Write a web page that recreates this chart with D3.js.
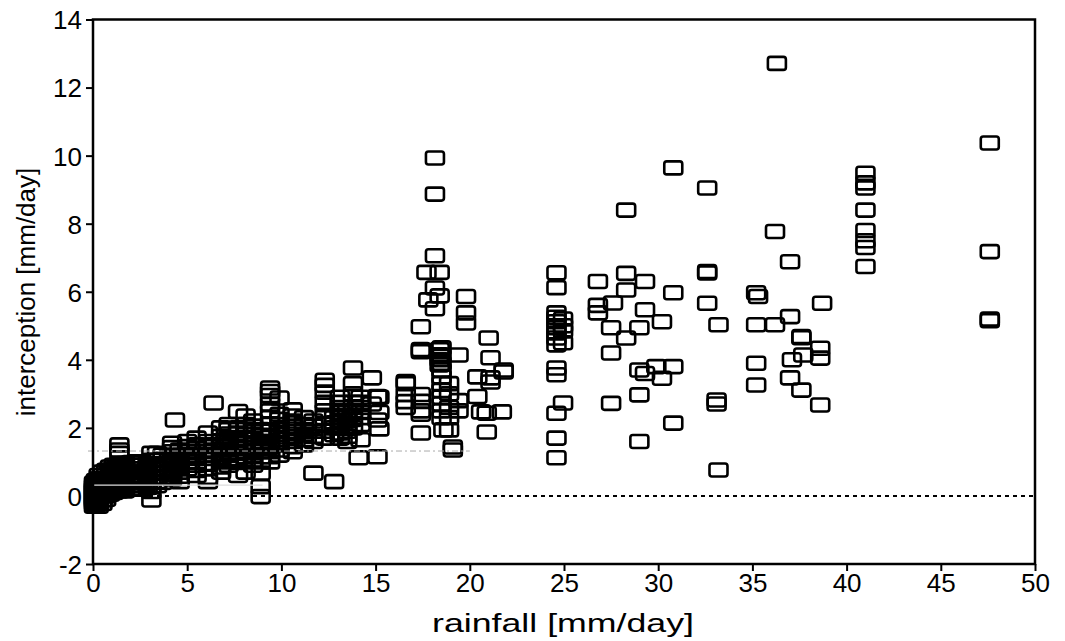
<!DOCTYPE html>
<html><head><meta charset="utf-8">
<script src="https://cdn.jsdelivr.net/npm/d3@7"></script>
<style>body{margin:0;background:#fff}text{font-family:"Liberation Sans",Arial,sans-serif;fill:#000}</style>
</head><body><svg id="c" width="1065" height="641"></svg>
<script>
// rainfall value of each column of observations
const colRain = [0.05,0.15,0.3,0.5,0.7,0.9,1.1,1.4,1.7,2.0,2.3,2.6,2.9,3.1,3.4,3.7,
 4.2,4.35,4.6,5.0,5.5,6.1,6.4,6.8,7.2,7.7,8.1,8.5,8.9,9.4,9.9,10.6,11.2,11.7,12.3,12.8,13.1,13.5,13.8,14.1,14.2,14.8,15.1,15.2,
 16.6,17.4,17.7,17.8,18.15,18.4,18.5,18.6,18.9,19.1,19.4,19.8,20.4,20.6,20.9,21.0,21.1,21.7,21.8,
 24.6,24.95,26.8,27.5,27.6,28.3,29.0,29.3,29.9,30.2,30.8,32.6,33.1,33.2,35.2,35.3,36.2,36.3,37.0,37.1,37.6,37.7,38.6,38.7,41.0,47.6];
// interception values observed in each column
const colInterc = [
 [-0.3,-0.22,-0.15,-0.08,0,0.08,0.15,0.22,0.3,0.38],
 [-0.28,-0.2,-0.12,-0.05,0.05,0.15,0.25,0.35,0.45],
 [-0.3,-0.2,-0.1,0,0.1,0.2,0.3,0.4,0.5,0.6],
 [-0.22,-0.12,0,0.1,0.2,0.3,0.4,0.5,0.6,0.7],
 [-0.1,0,0.1,0.2,0.3,0.4,0.5,0.62,0.75],
 [0.05,0.15,0.25,0.35,0.45,0.55,0.65,0.75,0.85],
 [0.1,0.2,0.3,0.4,0.5,0.6,0.7,0.8,0.9],
 [0.15,0.25,0.35,0.45,0.55,0.65,0.75,0.85,0.95,1.25,1.35,1.5],
 [0.15,0.25,0.35,0.45,0.55,0.65,0.75,0.85,0.95],
 [0.2,0.3,0.4,0.5,0.6,0.7,0.8,0.9,0.98],
 [0.2,0.3,0.4,0.5,0.6,0.7,0.8,0.9,1.0],
 [0.2,0.32,0.45,0.58,0.7,0.8,0.9,1.0],
 [0.25,0.37,0.5,0.62,0.75,0.85,0.95],
 [-0.12,0.13,0.3,0.4,0.52,0.65,0.78,0.9,1.05,1.25],
 [0.3,0.42,0.55,0.68,0.8,0.92,1.05,1.25],
 [0.4,0.55,0.7,0.82,0.95,1.08,1.2],
 [0.5,0.62,0.75,0.88,1.0,1.15,1.3,1.42,1.55],
 [2.23],
 [0.42,0.58,0.7,0.85,1.0,1.1,1.2,1.35],
 [0.8,0.9,1.0,1.15,1.3,1.45,1.6],
 [0.6,0.75,0.9,1.0,1.1,1.2,1.3,1.4,1.5,1.7],
 [0.42,0.55,0.8,0.95,1.1,1.2,1.3,1.45,1.6,1.85],
 [2.73,1.2,1.35,1.5],
 [0.7,0.85,1.0,1.12,1.25,1.35,1.45,1.6,1.75,2.0],
 [0.9,1.05,1.2,1.35,1.5,1.6,1.7,1.82,1.95,2.1],
 [0.6,1.1,1.25,1.4,1.55,1.7,1.85,2.0,2.48],
 [0.7,1.0,1.15,1.3,1.42,1.55,1.68,1.8,1.95,2.1,2.35],
 [0.9,1.05,1.2,1.35,1.5,1.7,1.9,2.05,2.2],
 [-0.02,0.27,0.67,1.0,1.15,1.3,1.45,1.6,1.78,1.95],
 [1.0,1.15,1.3,1.45,1.6,1.75,1.9,2.1,2.3,2.5,2.7,2.95,3.07,3.17],
 [1.2,1.35,1.5,1.65,1.8,1.95,2.1,2.25,2.4,2.88],
 [1.3,1.45,1.6,1.75,1.9,2.05,2.2,2.35,2.53],
 [1.5,1.65,1.8,1.95,2.1,2.3],
 [0.67,1.6,1.75,1.9,2.05,2.2],
 [1.7,1.9,2.1,2.3,2.5,2.75,3.05,3.25,3.4],
 [0.42,1.8,2.0,2.15,2.3],
 [1.7,1.85,2.0,2.15,2.3,2.45,2.6,2.75,2.9],
 [1.6,1.75,1.9,2.05,2.2,2.35,2.5],
 [2.0,2.25,2.5,2.75,3.0,3.3,3.76],
 [1.12],
 [1.65,2.1,2.3,2.45,2.6,2.75,2.9],
 [3.47,2.7],
 [1.15,2.23,2.92],
 [1.97,2.45,2.9],
 [3.36,3.3,2.98,2.77,2.6],
 [4.97,4.3,4.24,2.98,2.78,2.5,2.4,1.85],
 [6.57],
 [5.76],
 [9.93,8.87,7.06,6.11,5.5],
 [6.57,5.88,4.3,4.15,4.0,3.85],
 [4.35,4.1,3.9,3.7,3.5,3.3,3.1,2.9,2.7,2.5,2.3],
 [1.94],
 [1.94,2.3,2.6,3.0,3.3],
 [1.35,1.44],
 [4.14,2.8,2.5],
 [5.86,5.38,5.08],
 [3.5,2.92],
 [2.47],
 [1.88,2.43],
 [4.64],
 [4.06,3.47,3.35],
 [2.47],
 [3.64,3.7],
 [6.56,6.12,5.38,5.25,5.12,4.94,4.79,4.64,4.44,3.76,3.56,2.43,1.7,1.12],
 [5.2,5.0,4.85,4.5,2.73],
 [6.3,5.6,5.38],
 [4.94,4.2,2.72],
 [5.67],
 [8.4,6.54,6.05,4.64],
 [4.94,3.7,2.97,1.6],
 [6.3,5.47,3.6],
 [3.8],
 [5.12,3.46],
 [9.64,5.97,3.8,2.14],
 [9.05,6.59,6.55,5.66],
 [2.82,2.7],
 [5.03,0.76],
 [5.97,5.03,3.9,3.26],
 [5.86],
 [7.77,5.03],
 [12.71],
 [6.88,5.27,3.47],
 [4.0],
 [4.68,4.65,3.11],
 [4.14],
 [4.34,4.05,2.67],
 [5.66],
 [9.48,9.2,9.05,8.4,7.8,7.5,7.3,6.74],
 [10.37,7.18,5.2,5.15]
];
const xTicks = [0,5,10,15,20,25,30,35,40,45,50];
const yTicks = [-2,0,2,4,6,8,10,12,14];
const xTitle = "rainfall [mm/day]";
const yTitle = "interception [mm/day]";
const fitLevel = 1.32;   // faint reference line
const fitEnd = 20;
const lowLevel = 0.32;
const lowEnd = 9;

const svg = d3.select("#c");
const x = d3.scaleLinear().domain([0,50]).range([93,1035]);
const y = d3.scaleLinear().domain([-2,14]).range([564,19.5]);

const pts = [];
colRain.forEach((r,i)=>colInterc[i].forEach(v=>pts.push([r,v])));

// zero line
svg.append("line").attr("x1",x(0)).attr("x2",x(50)).attr("y1",y(0)).attr("y2",y(0))
  .attr("stroke","#000").attr("stroke-width",2).attr("stroke-dasharray","4,4");

const mw=18, mh=13;
svg.append("g").selectAll("rect").data(pts).join("rect")
  .attr("x",d=>x(d[0])-mw/2).attr("y",d=>y(d[1])-mh/2)
  .attr("width",mw).attr("height",mh).attr("rx",2.5)
  .attr("fill","none").attr("stroke","#000").attr("stroke-width",2.6);

// faint lines
svg.append("line").attr("x1",x(0)-5).attr("x2",x(fitEnd)).attr("y1",y(fitLevel)).attr("y2",y(fitLevel))
  .attr("stroke","#aaa").attr("stroke-width",1).attr("stroke-dasharray","6,3,2,3");
svg.append("line").attr("x1",x(0)).attr("x2",x(lowEnd)).attr("y1",y(lowLevel)).attr("y2",y(lowLevel))
  .attr("stroke","#ddd").attr("stroke-width",1.2);

// frame
const ax = svg.append("g").attr("stroke","#000").attr("stroke-width",2.5);
ax.append("rect").attr("x",x(0)).attr("y",y(14)).attr("width",x(50)-x(0)).attr("height",y(-2)-y(14)).attr("fill","none");

const gy = svg.append("g").attr("transform",`translate(${x(0)},0)`)
  .call(d3.axisLeft(y).tickValues(yTicks).tickSize(7).tickPadding(4).tickFormat(d=>String(d)));
const gx = svg.append("g").attr("transform",`translate(0,${y(-2)})`)
  .call(d3.axisBottom(x).tickValues(xTicks).tickSize(7).tickPadding(3).tickFormat(d=>String(d)));
[gy,gx].forEach(g=>{g.select(".domain").remove();
  g.selectAll(".tick line").attr("stroke","#000").attr("stroke-width",2);
  g.selectAll("text").attr("font-size",26).attr("font-family","Liberation Sans, Arial, sans-serif").attr("fill","#000");});
gy.selectAll("text").attr("dy","0.36em");

svg.append("text").attr("x",563).attr("y",632).attr("text-anchor","middle").attr("font-size",26)
  .attr("textLength",262).attr("lengthAdjust","spacingAndGlyphs").text(xTitle);
svg.append("text").attr("transform","translate(35,292) rotate(-90)").attr("text-anchor","middle").attr("font-size",26).text(yTitle);
</script></body></html>
